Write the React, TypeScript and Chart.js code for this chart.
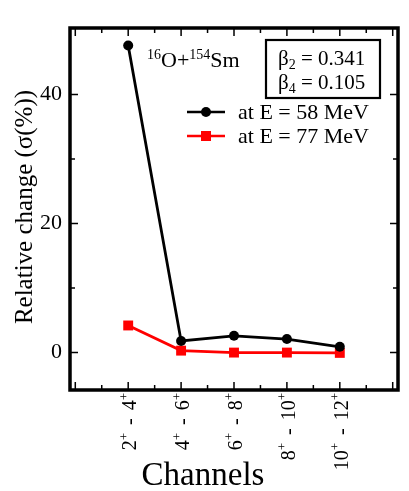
import React, { useEffect, useRef } from "react";
import { Chart, registerables } from "chart.js";

Chart.register(...registerables);

const channelLow = ["2", "4", "6", "8", "10"];
const channelHigh = ["4", "6", "8", "10", "12"];
const xPositions = [0, 1, 2, 3, 4];
const e58 = [47.6, 1.8, 2.6, 2.1, 0.9];
const e77 = [4.2, 0.3, 0.0, 0.0, -0.05];
const yMajorTicks = [0, 20, 40];
const yMinorTicks = [10, 30];
const SERIF = "'Liberation Serif', 'DejaVu Serif', serif";

export default function App() {
  const ref = useRef<HTMLCanvasElement>(null);
  useEffect(() => {
    const ctx = ref.current!.getContext("2d")!;
    const decor = {
      id: "decor",
      afterDraw(chart: any) {
        const c = chart.ctx;
        const { left, right, top, bottom } = chart.chartArea;
        const xs = chart.scales.x;
        const ys = chart.scales.y;
        c.save();
        c.strokeStyle = "#000";
        c.lineWidth = 1.5;
        // x ticks
        for (let v = -1; v <= 5.01; v += 0.5) {
          const px = xs.getPixelForValue(v);
          if (px <= left + 2 || px >= right - 2) continue;
          const len = Number.isInteger(v) ? 8 : 5;
          c.beginPath();
          c.moveTo(px, bottom);
          c.lineTo(px, bottom - len);
          c.moveTo(px, top);
          c.lineTo(px, top + len);
          c.stroke();
        }
        const yt = (v: number, len: number) => {
          const py = ys.getPixelForValue(v);
          c.beginPath();
          c.moveTo(left, py);
          c.lineTo(left + len, py);
          c.moveTo(right, py);
          c.lineTo(right - len, py);
          c.stroke();
        };
        yMajorTicks.forEach((v) => yt(v, 8));
        yMinorTicks.forEach((v) => yt(v, 5));
        // frame
        c.lineWidth = 3.5;
        c.strokeRect(left, top, right - left, bottom - top);

        c.fillStyle = "#000";
        // x tick labels (rotated, reading bottom to top)
        xPositions.forEach((v, i) => {
          const px = xs.getPixelForValue(v);
          c.save();
          c.translate(px + 3, bottom + 3);
          c.rotate(-Math.PI / 2);
          c.textBaseline = "middle";
          c.textAlign = "left";
          const big = `20px ${SERIF}`;
          const small = `13px ${SERIF}`;
          const parts: [string, string, number, number][] = [
            [channelLow[i], big, 0, 0],
            ["+", small, -7, 0],
            [" - ", big, 0, 3],
            [channelHigh[i], big, 0, 0],
            ["+", small, -7, 0],
          ];
          let total = 0;
          parts.forEach(([t, f, , pad]) => {
            c.font = f;
            total += c.measureText(t).width + 2 * pad;
          });
          let x = -total;
          parts.forEach(([t, f, dy, pad]) => {
            c.font = f;
            x += pad;
            c.fillText(t, x, dy);
            x += c.measureText(t).width + pad;
          });
          c.restore();
        });

        // axis titles
        c.textAlign = "center";
        c.textBaseline = "alphabetic";
        c.font = `33px ${SERIF}`;
        c.fillText("Channels", 203, 485);
        c.save();
        c.translate(32, (top + bottom) / 2 - 2);
        c.rotate(-Math.PI / 2);
        c.font = `25px ${SERIF}`;
        c.fillText("Relative change (σ(%))", 0, 0);
        c.restore();

        // reaction label
        c.textAlign = "left";
        let x = 147;
        const by = 67;
        c.font = `14px ${SERIF}`;
        c.fillText("16", x, by - 8);
        x += c.measureText("16").width;
        c.font = `22px ${SERIF}`;
        c.fillText("O+", x, by);
        x += c.measureText("O+").width;
        c.font = `14px ${SERIF}`;
        c.fillText("154", x, by - 8);
        x += c.measureText("154").width;
        c.font = `22px ${SERIF}`;
        c.fillText("Sm", x, by);

        // beta box
        c.lineWidth = 2.2;
        c.strokeRect(266, 40, 114, 58);
        const beta = (sub: string, val: string, y: number) => {
          let bx = 278;
          c.font = `21px ${SERIF}`;
          c.fillText("β", bx, y);
          bx += c.measureText("β").width;
          c.font = `14px ${SERIF}`;
          c.fillText(sub, bx, y + 4);
          bx += c.measureText(sub).width;
          c.font = `21px ${SERIF}`;
          c.fillText(" = " + val, bx, y);
        };
        beta("2", "0.341", 65);
        beta("4", "0.105", 89);

        // legend
        const leg = (label: string, color: string, y: number, square: boolean) => {
          c.strokeStyle = color;
          c.fillStyle = color;
          c.lineWidth = 2.5;
          c.beginPath();
          c.moveTo(187, y);
          c.lineTo(225, y);
          c.stroke();
          if (square) {
            c.fillRect(201, y - 5, 10, 10);
          } else {
            c.beginPath();
            c.arc(206, y, 5, 0, Math.PI * 2);
            c.fill();
          }
          c.fillStyle = "#000";
          c.font = `22px ${SERIF}`;
          c.textBaseline = "middle";
          c.fillText(label, 238, y + 1);
        };
        leg("at E = 58 MeV", "#000", 112, false);
        leg("at E = 77 MeV", "#ff0000", 136, true);
        c.restore();
      },
    };
    const chart = new Chart(ctx, {
      type: "line",
      data: {
        datasets: [
          {
            label: "at E = 58 MeV",
            data: xPositions.map((x, i) => ({ x, y: e58[i] })),
            borderColor: "#000",
            backgroundColor: "#000",
            borderWidth: 2.8,
            pointStyle: "circle",
            pointRadius: 5,
            pointBorderWidth: 0,
          },
          {
            label: "at E = 77 MeV",
            data: xPositions.map((x, i) => ({ x, y: e77[i] })),
            borderColor: "#ff0000",
            backgroundColor: "#ff0000",
            borderWidth: 2.8,
            pointStyle: "rect",
            pointRadius: 7,
            pointBorderWidth: 0,
          },
        ],
      },
      options: {
        animation: false,
        responsive: false,
        devicePixelRatio: 1,
        layout: { padding: { top: 28, right: 11, left: 0, bottom: 0 } },
        plugins: { legend: { display: false }, tooltip: { enabled: false } },
        scales: {
          x: {
            type: "linear",
            min: -1.1,
            max: 5.1,
            afterFit: (s: any) => {
              s.height = 101;
            },
            grid: { display: false, drawTicks: false },
            border: { display: false },
            ticks: { display: false },
          },
          y: {
            min: -5.8,
            max: 50.3,
            afterBuildTicks: (s: any) => {
              s.ticks = yMajorTicks.map((v) => ({ value: v }));
            },
            afterFit: (s: any) => {
              s.width = 70;
            },
            grid: { display: false, drawTicks: false },
            border: { display: false },
            ticks: {
              padding: 8,
              color: "#000",
              font: { family: SERIF, size: 22 },
            },
          },
        },
      },
      plugins: [decor],
    } as any);
    return () => chart.destroy();
  }, []);
  return (
    <div style={{ position: "fixed", left: 0, top: 0, width: 409, height: 491, background: "#fff" }}>
      <canvas ref={ref} width={409} height={491} style={{ width: 409, height: 491 }} />
    </div>
  );
}
